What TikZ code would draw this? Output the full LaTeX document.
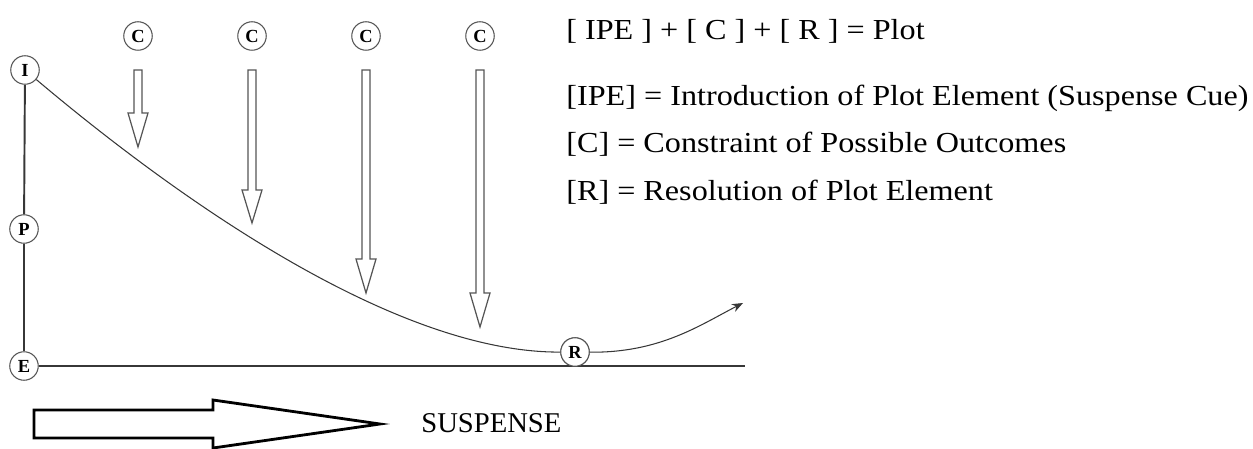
\documentclass[tikz,border=0pt]{standalone}
\usepackage{fontspec}
\setmainfont{Liberation Serif}
\newfontfamily\legendfont[FakeStretch=1.11]{Liberation Serif}
\usepackage{tikz}
\usetikzlibrary{arrows.meta}
\definecolor{spgray}{RGB}{85,85,85}
\definecolor{spdark}{RGB}{55,55,55}
\tikzset{
  spnode/.style={draw=spgray, fill=white, circle, minimum size=0.57cm,
    inner sep=0pt, line width=0.6pt, font=\fontsize{10.5}{11}\selectfont\bfseries},
  spaxis/.style={draw=spdark, line width=1.1pt},
  spcurve/.style={draw=spdark, line width=0.6pt},
  sphollow/.style={draw=spgray, fill=white, line width=0.7pt, line join=miter},
  splegend/.style={anchor=base west, inner sep=0pt,
    font=\legendfont\fontsize{16.5}{18}\selectfont}
}

\begin{document}
\begin{tikzpicture}[x=0.02cm, y=-0.02cm]
  \useasboundingbox (0,0) rectangle (1253,449);
  % axis nodes
  \node[spnode] (nI) at (25,70) {I};
  \node[spnode] (nP) at (24,229) {P};
  \node[spnode] (nE) at (24,366) {E};
  \node[spnode] (nR) at (575,352) {R};
  \coordinate (xEnd) at (745,366);
  \coordinate (cTip) at (743,303);
  \draw[spaxis] (nI) -- (nP);
  \draw[spaxis] (nP) -- (nE);
  \draw[spaxis] (nE) -- (xEnd);
  \node[spnode] (nR) at (575,352) {R};
  % plot curve
  \draw[spcurve] (nI) .. controls (166,189) and (390,353) .. (nR);
  \draw[spcurve, -{Stealth[length=2.2mm, width=1.7mm]}] (nR) .. controls (660,353) and (700,325) .. (cTip);
  % constraints
  \node[spnode] (nC1) at (138,36) {C};
  \node[spnode] (nC2) at (252,36) {C};
  \node[spnode] (nC3) at (366,36) {C};
  \node[spnode] (nC4) at (480,36) {C};
  \draw[sphollow] (134,70) -- (142,70) -- (142,113) -- (148,113) -- (138,147) -- (128,113) -- (134,113) -- cycle;
  \draw[sphollow] (248,70) -- (256,70) -- (256,190) -- (262,190) -- (252,223) -- (242,190) -- (248,190) -- cycle;
  \draw[sphollow] (362,70) -- (370,70) -- (370,259) -- (376,259) -- (366,293) -- (356,259) -- (362,259) -- cycle;
  \draw[sphollow] (476,70) -- (484,70) -- (484,293) -- (490,293) -- (480,327) -- (470,293) -- (476,293) -- cycle;
  % legend
  \node[splegend] (lPlot) at (566,40) {[ IPE ] + [ C ] + [ R ] = Plot};
  \node[splegend] (lIPE) at (566,106) {[IPE] = Introduction of Plot Element (Suspense Cue)};
  \node[splegend] (lC) at (566,153) {[C] = Constraint of Possible Outcomes};
  \node[splegend] (lR) at (566,200) {[R] = Resolution of Plot Element};
  % suspense arrow
  \draw[line width=1.6pt, black, line join=miter] (34,410) -- (213,410) -- (213,400) -- (380,424) -- (213,448) -- (213,438) -- (34,438) -- cycle;
  \node[anchor=base west, inner sep=0pt, font=\fontsize{16.3}{18}\selectfont] (lSus) at (421,432) {SUSPENSE};
\end{tikzpicture}
\end{document}
